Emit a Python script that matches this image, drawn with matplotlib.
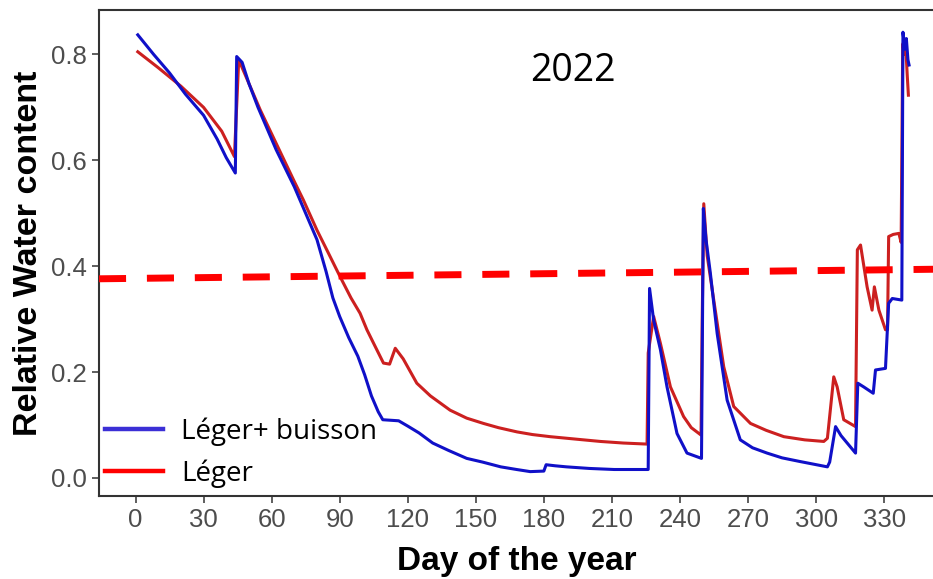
import matplotlib
matplotlib.use("Agg")
import matplotlib.pyplot as plt
from matplotlib.lines import Line2D

# Léger+ buisson (blue)
shrub_days = [1, 8, 15, 22, 30, 36, 40, 44, 44.6, 47, 50, 54, 58, 62, 66, 70, 75, 80,
              84, 87, 90, 94, 98, 101, 104, 107, 109, 116, 120, 125, 131, 138, 146,
              153, 161, 168, 174, 180, 181, 185, 190, 200, 211, 226, 226.6, 228.4,
              231.4, 234.3, 238.7, 243.1, 249.5, 250.3, 251.5, 253.4, 256.4, 260.8,
              266.6, 272, 278.4, 285, 293, 299, 305, 306, 308.6, 311, 317.4, 318.4,
              321, 325.2, 326.2, 330.6, 332, 333.6, 337.8, 338.3, 339.2, 339.8,
              340.5, 341]
shrub_rwc = [0.837, 0.80, 0.765, 0.725, 0.685, 0.64, 0.605, 0.576, 0.796, 0.785, 0.745,
             0.70, 0.66, 0.62, 0.585, 0.55, 0.50, 0.45, 0.39, 0.34, 0.305, 0.265, 0.23,
             0.195, 0.155, 0.125, 0.11, 0.108, 0.098, 0.085, 0.066, 0.052, 0.037, 0.03,
             0.021, 0.016, 0.012, 0.013, 0.025, 0.023, 0.021, 0.018, 0.016, 0.016,
             0.358, 0.298, 0.242, 0.172, 0.084, 0.047, 0.037, 0.509, 0.45, 0.387,
             0.273, 0.147, 0.072, 0.057, 0.047, 0.038, 0.031, 0.026, 0.021, 0.03,
             0.097, 0.08, 0.047, 0.179, 0.172, 0.16, 0.204, 0.207, 0.33, 0.339,
             0.336, 0.842, 0.81, 0.83, 0.79, 0.78]

# Léger (red)
light_days = [1, 10, 20, 30, 38, 43.6, 45.5, 50, 55, 60, 65, 70, 74, 80, 85, 90.2, 95,
              99, 102, 105, 109.3, 112, 114.5, 118, 124, 130, 138.7, 146, 153.4, 160,
              168.2, 175, 182.8, 195, 204.9, 215, 225.5, 226, 228.4, 231.4, 235.8,
              241.6, 245, 249.3, 249.8, 250.5, 252, 254.9, 259.3, 263.7, 271.1, 278,
              285.8, 295, 303.4, 305, 307.8, 309.3, 312.2, 317.4, 318.2, 319.6, 322.5,
              324.7, 325.7, 327.7, 330.6, 331.5, 332, 334, 336.5, 337.5, 338.2, 339,
              339.6, 340.2, 340.7]
light_rwc = [0.805, 0.775, 0.74, 0.70, 0.655, 0.607, 0.79, 0.745, 0.695, 0.65, 0.605,
             0.56, 0.525, 0.468, 0.425, 0.38, 0.34, 0.311, 0.28, 0.254, 0.217, 0.215,
             0.245, 0.225, 0.179, 0.155, 0.128, 0.113, 0.103, 0.095, 0.087, 0.082,
             0.078, 0.073, 0.069, 0.066, 0.064, 0.236, 0.305, 0.254, 0.172, 0.116,
             0.095, 0.081, 0.298, 0.518, 0.42, 0.336, 0.21, 0.135, 0.103, 0.09, 0.078,
             0.072, 0.069, 0.075, 0.191, 0.172, 0.11, 0.097, 0.431, 0.44, 0.361,
             0.317, 0.361, 0.317, 0.28, 0.28, 0.456, 0.46, 0.462, 0.445, 0.82, 0.80,
             0.81, 0.76, 0.723]

# dashed threshold line (intercept at day 0, slope per day)
threshold_intercept = 0.377
threshold_slope = 0.000049

x_ticks = list(range(0, 331, 30))
y_ticks = [0.0, 0.2, 0.4, 0.6, 0.8]
series_labels = ["Léger+ buisson", "Léger"]
year_label = "2022"

fig = plt.figure(figsize=(9.33, 5.79), dpi=100)
ax = fig.add_axes([0.1061, 0.1434, 0.8950, 0.8394])

ax.plot(light_days, light_rwc, color="#cc2020", lw=2.2, zorder=3)
ax.plot(shrub_days, shrub_rwc, color="#1010c8", lw=2.2, zorder=4)
ax.axline((0, threshold_intercept), slope=threshold_slope, color="#ff0000",
          lw=5, dashes=(3.9, 3.0), zorder=5)

ax.set_xlim(-16.1, 352)
ax.set_ylim(-0.034, 0.884)
ax.set_xticks(x_ticks)
ax.set_yticks(y_ticks)
ax.set_yticklabels([f"{v:.1f}" for v in y_ticks])
ax.tick_params(colors="#333333", labelcolor="#4d4d4d", length=5, width=1.1,
               labelsize=18.5, pad=4)
for lab in ax.get_xticklabels() + ax.get_yticklabels():
    lab.set_fontfamily("Liberation Sans")

for side in ("left", "bottom", "top"):
    ax.spines[side].set_color("#333333")
    ax.spines[side].set_linewidth(1.5)
ax.spines["right"].set_visible(False)

ax.set_xlabel("Day of the year", fontsize=24, fontweight="bold",
              family="Liberation Sans", labelpad=10)
ax.set_ylabel("Relative Water content", fontsize=24.5, fontweight="bold",
              family="Liberation Sans", labelpad=5)

ax.text(0.568, 0.875, year_label, transform=ax.transAxes, fontsize=27,
        family="Open Sans", ha="center", va="center")

handles = [Line2D([], [], color="#3b2fd6", lw=3.2),
           Line2D([], [], color="#ff0000", lw=3.2)]
ax.legend(handles, series_labels, loc="lower left", bbox_to_anchor=(0.0, 0.005),
          frameon=False, prop={"family": "Open Sans", "size": 20},
          handlelength=2.1, handletextpad=0.65, labelspacing=0.5, borderpad=0.2,
          borderaxespad=0.0)

fig.savefig("out.png", dpi=100)
